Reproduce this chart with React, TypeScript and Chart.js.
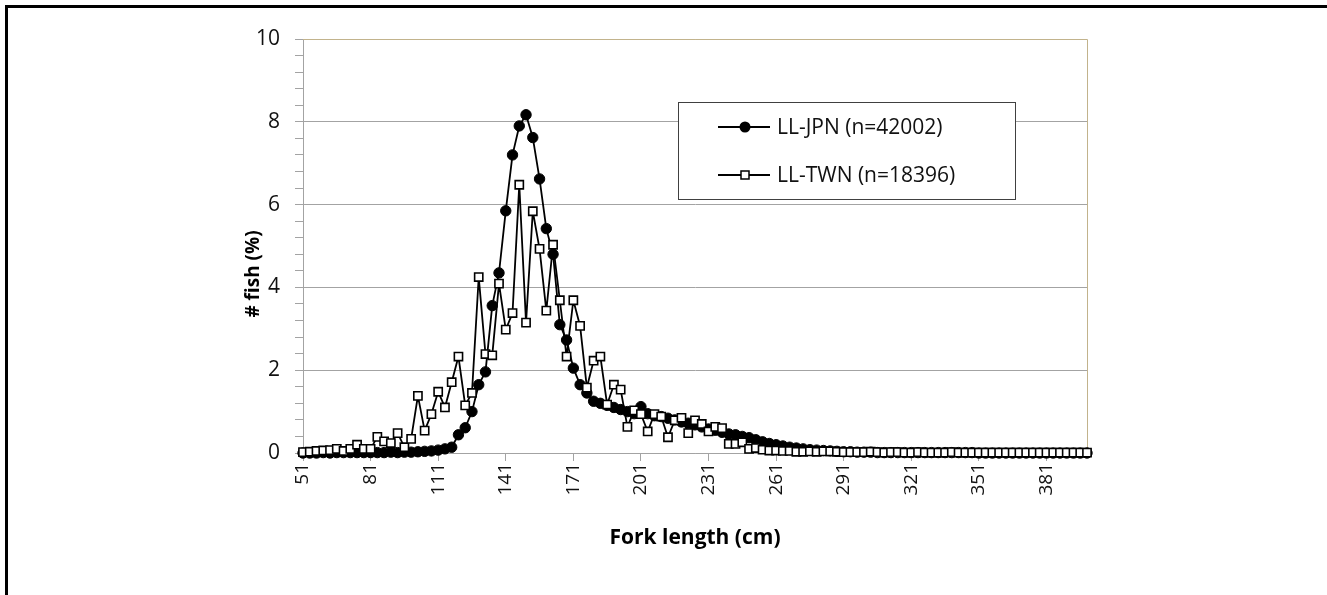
import { useEffect, useRef } from 'react';
import { Chart, registerables } from 'chart.js';

Chart.register(...registerables);

// Fork length bins (cm)
const forkLengths = [
  51, 54, 57, 60, 63, 66, 69, 72, 75, 78,
  81, 84, 87, 90, 93, 96, 99, 102, 105, 108,
  111, 114, 117, 120, 123, 126, 129, 132, 135, 138,
  141, 144, 147, 150, 153, 156, 159, 162, 165, 168,
  171, 174, 177, 180, 183, 186, 189, 192, 195, 198,
  201, 204, 207, 210, 213, 216, 219, 222, 225, 228,
  231, 234, 237, 240, 243, 246, 249, 252, 255, 258,
  261, 264, 267, 270, 273, 276, 279, 282, 285, 288,
  291, 294, 297, 300, 303, 306, 309, 312, 315, 318,
  321, 324, 327, 330, 333, 336, 339, 342, 345, 348,
  351, 354, 357, 360, 363, 366, 369, 372, 375, 378,
  381, 384, 387, 390, 393, 396, 399,
];

// # fish (%) — LL-JPN
const jpnPct = [
  0.0, 0.0, 0.0, 0.01, 0.0, 0.01, 0.01, 0.01, 0.01, 0.01,
  0.01, 0.01, 0.01, 0.02, 0.01, 0.02, 0.02, 0.03, 0.04, 0.05,
  0.07, 0.1, 0.14, 0.44, 0.61, 1.0, 1.65, 1.96, 3.56, 4.35,
  5.85, 7.2, 7.9, 8.17, 7.62, 6.62, 5.42, 4.8, 3.1, 2.73,
  2.05, 1.65, 1.45, 1.25, 1.2, 1.15, 1.1, 1.05, 1.0, 0.95,
  1.12, 0.95, 0.9, 0.88, 0.84, 0.8, 0.75, 0.72, 0.68, 0.63,
  0.58, 0.55, 0.5, 0.46, 0.44, 0.4, 0.37, 0.32, 0.27, 0.23,
  0.2, 0.17, 0.14, 0.12, 0.1, 0.08, 0.07, 0.06, 0.05, 0.04,
  0.03, 0.03, 0.02, 0.02, 0.02, 0.01, 0.01, 0.01, 0.01, 0.01,
  0.01, 0.01, 0.01, 0.01, 0.01, 0.01, 0.01, 0.01, 0.01, 0.01,
  0.0, 0.0, 0.0, 0.0, 0.0, 0.0, 0.0, 0.0, 0.0, 0.0,
  0.0, 0.0, 0.0, 0.0, 0.0, 0.0, 0.0,
];

// # fish (%) — LL-TWN
const twnPct = [
  0.02, 0.03, 0.05, 0.06, 0.07, 0.1, 0.05, 0.1, 0.2, 0.1,
  0.1, 0.39, 0.28, 0.24, 0.48, 0.14, 0.34, 1.38, 0.54, 0.94,
  1.48, 1.1, 1.71, 2.33, 1.15, 1.45, 4.25, 2.39, 2.36, 4.09,
  2.98, 3.38, 6.48, 3.15, 5.84, 4.93, 3.44, 5.03, 3.69, 2.33,
  3.69, 3.07, 1.58, 2.23, 2.33, 1.17, 1.65, 1.53, 0.63, 1.03,
  0.94, 0.52, 0.94, 0.88, 0.38, 0.79, 0.85, 0.48, 0.79, 0.7,
  0.52, 0.63, 0.6, 0.22, 0.22, 0.26, 0.1, 0.12, 0.08, 0.06,
  0.06, 0.05, 0.05, 0.03, 0.03, 0.04, 0.03, 0.04, 0.04, 0.03,
  0.02, 0.02, 0.02, 0.02, 0.03, 0.02, 0.01, 0.02, 0.02, 0.01,
  0.01, 0.02, 0.01, 0.01, 0.01, 0.01, 0.02, 0.01, 0.01, 0.01,
  0.01, 0.01, 0.01, 0.01, 0.01, 0.01, 0.01, 0.01, 0.01, 0.01,
  0.01, 0.01, 0.01, 0.01, 0.01, 0.01, 0.01,
];

const yTickValues = [0, 2, 4, 6, 8, 10];
const seriesNames = ['LL-JPN (n=42002)', 'LL-TWN (n=18396)'];
const yTitle = '# fish (%)';
const xTitle = 'Fork length (cm)';

const GRID = '#a3a3a3';
const TAN = '#c2b38c';
const TEXT = '#111';
const FONT = '"Open Sans", "DejaVu Sans", sans-serif';

const isMajorY = (v: number) => yTickValues.some((t) => Math.abs(t - v) < 1e-6);

const framePlugin = {
  id: 'plotFrame',
  beforeDatasetsDraw(chart: any) {
    const { ctx, chartArea } = chart;
    ctx.save();
    ctx.strokeStyle = TAN;
    ctx.lineWidth = 1;
    ctx.beginPath();
    ctx.moveTo(chartArea.left, Math.round(chartArea.top) + 0.5);
    ctx.lineTo(Math.round(chartArea.right) + 0.5, Math.round(chartArea.top) + 0.5);
    ctx.lineTo(Math.round(chartArea.right) + 0.5, chartArea.bottom);
    ctx.stroke();
    ctx.restore();
  },
  afterDraw(chart: any) {
    const { ctx } = chart;
    ctx.save();
    ctx.translate(254, 274);
    ctx.rotate(-Math.PI / 2);
    ctx.fillStyle = '#000';
    ctx.font = `bold 19px ${FONT}`;
    ctx.textAlign = 'center';
    ctx.textBaseline = 'middle';
    ctx.fillText(yTitle, 0, 0);
    ctx.restore();
  },
};

const legendPlugin = {
  id: 'boxLegend',
  afterDraw(chart: any) {
    const { ctx } = chart;
    const x0 = 678, y0 = 102, w = 337, h = 97;
    ctx.save();
    ctx.fillStyle = '#fff';
    ctx.fillRect(x0, y0, w, h);
    ctx.strokeStyle = '#404040';
    ctx.lineWidth = 1;
    ctx.strokeRect(x0 + 0.5, y0 + 0.5, w, h);
    const rows = [y0 + 25, y0 + 73];
    rows.forEach((ry, i) => {
      ctx.strokeStyle = '#000';
      ctx.lineWidth = 2;
      ctx.beginPath();
      ctx.moveTo(718, ry);
      ctx.lineTo(770, ry);
      ctx.stroke();
      if (i === 0) {
        ctx.fillStyle = '#000';
        ctx.beginPath();
        ctx.arc(745, ry, 5.5, 0, Math.PI * 2);
        ctx.fill();
      } else {
        ctx.fillStyle = '#fff';
        ctx.fillRect(741, ry - 4, 8, 8);
        ctx.lineWidth = 1.5;
        ctx.strokeRect(741, ry - 4, 8, 8);
      }
      ctx.fillStyle = TEXT;
      ctx.font = `21px ${FONT}`;
      ctx.textBaseline = 'middle';
      ctx.textAlign = 'left';
      ctx.fillText(seriesNames[i], 777, ry + 1);
    });
    ctx.restore();
  },
};

export default function App() {
  const canvasRef = useRef<HTMLCanvasElement | null>(null);

  useEffect(() => {
    const canvas = canvasRef.current;
    if (!canvas) return;
    const chart = new Chart(canvas, {
      type: 'line',
      data: {
        labels: forkLengths.map(String),
        datasets: [
          {
            label: seriesNames[1],
            data: twnPct,
            order: 0,
            borderColor: '#000',
            borderWidth: 1.8,
            tension: 0,
            fill: false,
            clip: false as any,
            pointStyle: 'rect',
            pointRadius: 5.8,
            pointBackgroundColor: '#fff',
            pointBorderColor: '#000',
            pointBorderWidth: 1.6,
          },
          {
            label: seriesNames[0],
            data: jpnPct,
            order: 1,
            borderColor: '#000',
            borderWidth: 1.8,
            tension: 0,
            fill: false,
            clip: false as any,
            pointStyle: 'circle',
            pointRadius: 5.2,
            pointBackgroundColor: '#000',
            pointBorderColor: '#000',
            pointBorderWidth: 1,
          },
        ],
      },
      options: {
        responsive: false,
        animation: false,
        devicePixelRatio: 1,
        layout: { padding: { left: 239, right: 240, top: 39, bottom: 40 } },
        plugins: {
          legend: { display: false },
          tooltip: { enabled: false },
        },
        elements: { line: { borderJoinStyle: 'round' } },
        scales: {
          x: {
            type: 'category',
            offset: false,
            border: { display: true, color: GRID, width: 1 },
            grid: {
              color: (c: any) => (c.index % 20 === 0 ? GRID : 'rgba(0,0,0,0)'),
              tickColor: GRID,
              tickLength: 8,
              lineWidth: 1,
            },
            ticks: {
              autoSkip: false,
              maxRotation: 90,
              minRotation: 90,
              padding: 2,
              color: TEXT,
              font: { family: FONT, size: 19 },
              callback: function (this: any, value: any, index: number) {
                return index % 10 === 0 ? this.getLabelForValue(value) : null;
              },
            },
            title: {
              display: true,
              text: xTitle,
              color: '#000',
              font: { family: FONT, size: 21, weight: 'bold' },
              padding: { top: 4, bottom: 4 },
            },
            afterFit: (s: any) => {
              s.height = 102;
            },
          },
          y: {
            min: 0,
            max: 10,
            border: { display: true, color: GRID, width: 1 },
            grid: {
              color: (c: any) => {
                const v = c.tick ? c.tick.value : 0;
                if (!isMajorY(v)) return 'rgba(0,0,0,0)';
                return Math.abs(v - 10) < 1e-6 ? TAN : GRID;
              },
              tickColor: GRID,
              tickLength: 8,
            },
            ticks: {
              stepSize: 0.4,
              maxTicksLimit: 40,
              autoSkip: false,
              padding: 15,
              color: TEXT,
              font: { family: FONT, size: 21 },
              callback: (v: any) => (isMajorY(Number(v)) ? String(Math.round(Number(v))) : ''),
            },
            title: { display: false },
            afterFit: (s: any) => {
              s.width = 64;
            },
          },
        },
      },
      plugins: [framePlugin, legendPlugin],
    });
    return () => chart.destroy();
  }, []);

  return (
    <div>
      <div
        style={{
          position: 'fixed',
          left: 5,
          top: 5,
          width: 1400,
          height: 700,
          borderTop: '3px solid #000',
          borderLeft: '3px solid #000',
          boxSizing: 'border-box',
        }}
      />
      <canvas
        ref={canvasRef}
        width={1327}
        height={595}
        style={{ position: 'fixed', left: 0, top: 0 }}
      />
    </div>
  );
}
